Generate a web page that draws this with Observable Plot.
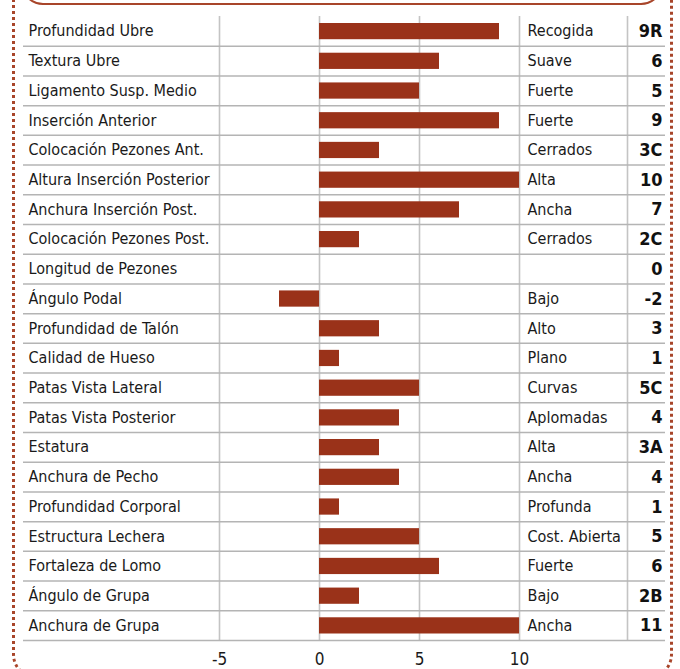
<!DOCTYPE html>
<html>
<head>
<meta charset="utf-8">
<script src="https://cdn.jsdelivr.net/npm/d3@7"></script>
<script src="https://cdn.jsdelivr.net/npm/@observablehq/plot@0.6"></script>
<style>
  html, body { margin: 0; padding: 0; background: #fff; }
  #wrap { position: relative; width: 680px; height: 669px; overflow: hidden; }
  #outer { position: absolute; left: 11.5px; top: -40px; width: 661px; height: 718px;
           border: 3px dotted #a8452a; border-radius: 23px; box-sizing: border-box; }
  #header { position: absolute; left: 21px; top: -60px; width: 642px; height: 65px;
            border: 2px solid #a8452a; border-radius: 22px; box-sizing: border-box; }
  #chart { position: absolute; left: 0; top: 0; }
</style>
</head>
<body>
<div id="wrap">
  <div id="outer"></div>
  <div id="header"></div>
  <div id="chart"></div>
</div>
<script>
const labels = ["Profundidad Ubre","Textura Ubre","Ligamento Susp. Medio","Inserción Anterior","Colocación Pezones Ant.","Altura Inserción Posterior","Anchura Inserción Post.","Colocación Pezones Post.","Longitud de Pezones","Ángulo Podal","Profundidad de Talón","Calidad de Hueso","Patas Vista Lateral","Patas Vista Posterior","Estatura","Anchura de Pecho","Profundidad Corporal","Estructura Lechera","Fortaleza de Lomo","Ángulo de Grupa","Anchura de Grupa"];
const values = [9,6,5,9,3,10,7,2,0,-2,3,1,5,4,3,4,1,5,6,2,11];
const descriptions = ["Recogida","Suave","Fuerte","Fuerte","Cerrados","Alta","Ancha","Cerrados","","Bajo","Alto","Plano","Curvas","Aplomadas","Alta","Ancha","Profunda","Cost. Abierta","Fuerte","Bajo","Ancha"];
const codes = ["9R","6","5","9","3C","10","7","2C","0","-2","3","1","5C","4","3A","4","1","5","6","2B","11"];
const xTicks = [-5,0,5,10];

const rows = labels.map((label, i) => ({i, label, value: values[i], desc: descriptions[i], code: codes[i]}));

const FONT = "'DejaVu Sans Condensed', 'Liberation Sans Narrow', sans-serif";
const BAR = "#9a3219";

const chart = Plot.plot({
  width: 680,
  height: 669,
  marginTop: 16,
  marginBottom: 29,
  marginLeft: 219,
  marginRight: 161,
  style: {fontFamily: FONT, fontSize: "17px", color: "#1a1a1a", background: "transparent", overflow: "visible"},
  x: {domain: [-5, 10], ticks: xTicks, tickSize: 0, tickPadding: 12, label: null, tickFormat: d => String(d)},
  y: {domain: [0, labels.length], reverse: true, axis: null},
  marks: [
    Plot.ruleX(xTicks, {stroke: "#c4c4c4", strokeWidth: 1.6}),
    Plot.ruleX([10], {dx: 108, stroke: "#c4c4c4", strokeWidth: 1.6}),
    Plot.ruleY(rows, {y: d => d.i + 1, stroke: "#b4b4b4", strokeWidth: 1.5, insetLeft: -196, insetRight: -146}),
    Plot.rect(rows, {x1: 0, x2: "value", y1: "i", y2: d => d.i + 1, insetTop: 7, insetBottom: 6.5, fill: BAR, clip: true}),
    Plot.text(rows, {y: d => d.i + 0.5, text: "label", frameAnchor: "left", textAnchor: "start", dx: -191, fontSize: 16, fill: "#1a1a1a"}),
    Plot.text(rows, {y: d => d.i + 0.5, text: "desc", frameAnchor: "right", textAnchor: "start", dx: 8, fontSize: 16, fill: "#1a1a1a"}),
    Plot.text(rows, {y: d => d.i + 0.5, text: "code", frameAnchor: "right", textAnchor: "end", dx: 143, fontSize: 18, fontWeight: "bold", fill: "#111"})
  ]
});
document.getElementById("chart").appendChild(chart);
</script>
</body>
</html>
